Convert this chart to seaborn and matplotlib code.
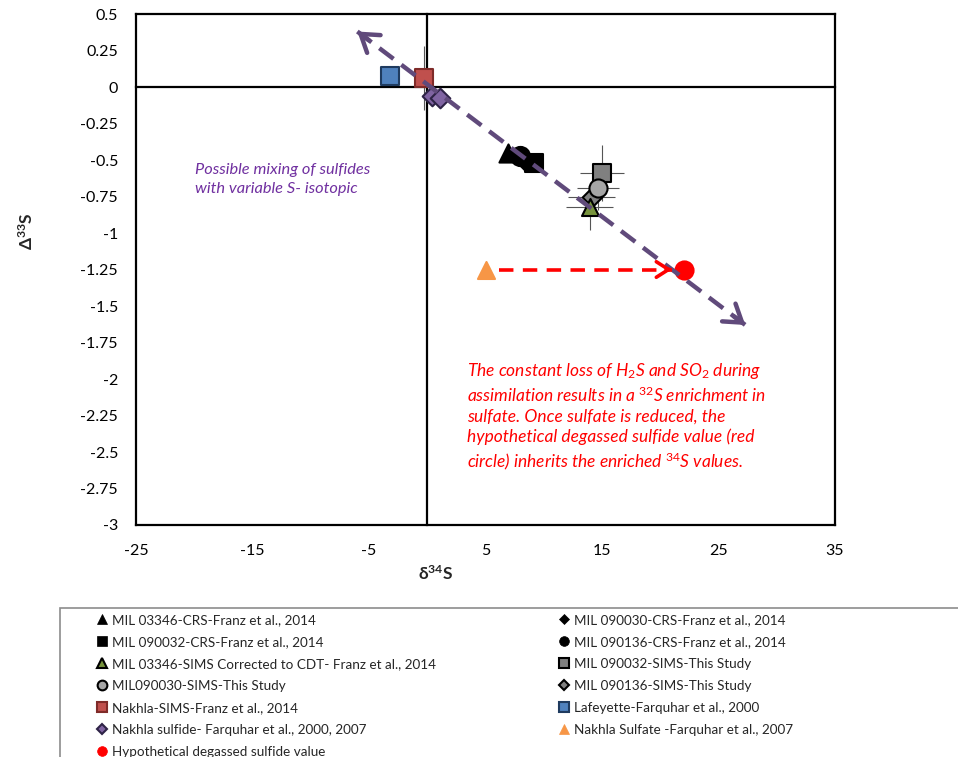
# Libraries
# ===================================================
import numpy as np
import pandas as pd
import seaborn as sns
import matplotlib.pyplot as plt
import matplotlib.lines as mlines
import matplotlib.patches as mpatches
from matplotlib.ticker import FuncFormatter

# Data
# ===================================================
series = [
    'MIL 090030-CRS-Franz et al., 2014',
    'MIL 03346-CRS-Franz et al., 2014',
    'MIL 090136-CRS-Franz et al., 2014',
    'MIL 090032-CRS-Franz et al., 2014',
    'MIL 090032-SIMS-This Study',
    'MIL 090136-SIMS-This Study',
    'MIL 03346-SIMS Corrected to CDT- Franz et al., 2014',
    'MIL090030-SIMS-This Study',
    'Lafeyette-Farquhar et al., 2000',
    'Nakhla-SIMS-Franz et al., 2014',
    'Nakhla sulfide- Farquhar et al., 2000, 2007',
    'Nakhla sulfide- Farquhar et al., 2000, 2007',
    'Nakhla Sulfate -Farquhar et al., 2007',
    'Hypothetical degassed sulfide value',
]
d34S = [8.3, 6.9, 8.0, 9.2, 15.0, 14.1, 13.95, 14.65, -3.2, -0.3, 0.4, 1.1, 5.0, 22.0]
D33S = [-0.49, -0.45, -0.47, -0.52, -0.59, -0.75, -0.82, -0.69, 0.075, 0.06, -0.06, -0.075, -1.25, -1.25]
d34S_err = [0, 0, 0, 0, 1.9, 2.0, 2.0, 1.8, 0, 0, 0, 0, 0, 0]
D33S_err = [0, 0, 0, 0, 0.19, 0.10, 0.16, 0.15, 0, 0.22, 0, 0, 0, 0]

# Arrows (mixing line and degassing shift)
mixing_x = [-6.0, 27.3]
mixing_y = [0.38, -1.63]
shift_x = [6.2, 21.0]
shift_y = [-1.25, -1.25]

x_ticks = [-25, -15, -5, 5, 15, 25, 35]
y_ticks = np.arange(-3, 0.51, 0.25)

df = pd.DataFrame({'series': series, 'x': d34S, 'y': D33S, 'xerr': d34S_err, 'yerr': D33S_err})

# Styles
# ===================================================
styles = {
    'MIL 03346-CRS-Franz et al., 2014': dict(marker='^', color='black', edge='black', s=170),
    'MIL 090030-CRS-Franz et al., 2014': dict(marker='D', color='black', edge='black', s=110),
    'MIL 090032-CRS-Franz et al., 2014': dict(marker='s', color='black', edge='black', s=170),
    'MIL 090136-CRS-Franz et al., 2014': dict(marker='o', color='black', edge='black', s=190),
    'MIL 03346-SIMS Corrected to CDT- Franz et al., 2014': dict(marker='^', color='#77933c', edge='black', s=150),
    'MIL 090032-SIMS-This Study': dict(marker='s', color='#808080', edge='black', s=150),
    'MIL090030-SIMS-This Study': dict(marker='o', color='#a6a6a6', edge='black', s=170),
    'MIL 090136-SIMS-This Study': dict(marker='D', color='#808080', edge='black', s=100),
    'Nakhla-SIMS-Franz et al., 2014': dict(marker='s', color='#c0504d', edge='#7f2b29', s=180),
    'Lafeyette-Farquhar et al., 2000': dict(marker='s', color='#4f81bd', edge='#1f3b5f', s=180),
    'Nakhla sulfide- Farquhar et al., 2000, 2007': dict(marker='D', color='#8064a2', edge='#2e2346', s=100),
    'Nakhla Sulfate -Farquhar et al., 2007': dict(marker='^', color='#f79646', edge='#f79646', s=150),
    'Hypothetical degassed sulfide value': dict(marker='o', color='#ff0000', edge='#ff0000', s=170),
}

# Visualization
# ===================================================
sns.set_style('white')
plt.rcParams.update({'font.family': ['Lato', 'DejaVu Sans'], 'font.size': 11.5,
                     'axes.unicode_minus': False, 'mathtext.fontset': 'custom',
                     'mathtext.rm': 'Lato', 'mathtext.it': 'Lato:italic', 'mathtext.bf': 'Lato:bold'})

fig = plt.figure(figsize=(9.58, 7.57), dpi=100)
rect = [136 / 958, 1 - 525 / 757, 699 / 958, 511 / 757]

# Frame axes with tick labels
axf = fig.add_axes(rect)
axf.set_xlim(-25, 35)
axf.set_ylim(-3, 0.5)
axf.set_xticks(x_ticks)
axf.set_yticks(y_ticks)
axf.yaxis.set_major_formatter(FuncFormatter(lambda v, p: f'{v:g}'))
axf.tick_params(length=0, labelsize=11.5, colors='black')
axf.tick_params(axis='x', pad=14)
axf.tick_params(axis='y', pad=13)
for sp in axf.spines.values():
    sp.set_color('black')
    sp.set_linewidth(1.6)
axf.grid(False)

# Zero-crossing axes with the data
ax = fig.add_axes(rect, sharex=axf, sharey=axf)
ax.patch.set_visible(False)
ax.grid(False)
ax.spines['top'].set_visible(False)
ax.spines['right'].set_visible(False)
ax.spines['left'].set_position(('data', 0))
ax.spines['bottom'].set_position(('data', 0))
for sp in ['left', 'bottom']:
    ax.spines[sp].set_color('black')
    ax.spines[sp].set_linewidth(1.6)
ax.tick_params(labelbottom=False, labelleft=False, colors='black', width=1.2)
ax.tick_params(axis='x', direction='inout', length=9)
ax.tick_params(axis='y', direction='in', length=6)

# Error bars
err = df[(df['xerr'] > 0) | (df['yerr'] > 0)]
ax.errorbar(err['x'], err['y'], xerr=err['xerr'], yerr=err['yerr'], fmt='none',
            ecolor='#555555', elinewidth=0.8, capsize=0, zorder=3)

# Mixing line (double-headed dashed arrow)
purple = '#604a7b'
ax.plot(mixing_x, mixing_y, color=purple, lw=3.2, dashes=(4, 2.2), zorder=5, solid_capstyle='butt')
for i, j in [(0, 1), (1, 0)]:
    tip = (mixing_x[i], mixing_y[i])
    back = (mixing_x[i] + 0.03 * (mixing_x[j] - mixing_x[i]), mixing_y[i] + 0.03 * (mixing_y[j] - mixing_y[i]))
    ax.annotate('', xy=tip, xytext=back,
                arrowprops=dict(arrowstyle='->,head_length=0.6,head_width=0.4', lw=3.2,
                                color=purple, mutation_scale=20, shrinkA=0, shrinkB=0), zorder=5)

# Markers
for name in df['series'].unique():
    st = styles[name]
    sub = df[df['series'] == name]
    sns.scatterplot(data=sub, x='x', y='y', marker=st['marker'], color=st['color'],
                    edgecolor=st['edge'], linewidth=1.5, s=st['s'], ax=ax, zorder=4, legend=False)

# Degassing shift (red dashed arrow)
ax.plot(shift_x, shift_y, color='#ff0000', lw=2.6, dashes=(4, 2.6), zorder=6)
ax.annotate('', xy=(shift_x[1], shift_y[1]), xytext=(shift_x[1] - 0.5, shift_y[1]),
            arrowprops=dict(arrowstyle='->,head_length=0.55,head_width=0.35', lw=2.6,
                            color='#ff0000', mutation_scale=16, shrinkA=0, shrinkB=0), zorder=6)

ax.set_xlabel('')
ax.set_ylabel('')

# Annotations
ax.text(-19.9, -0.52, 'Possible mixing of sulfides\nwith variable S- isotopic',
        color='#7030a0', fontsize=11.8, fontstyle='italic', va='top', ha='left', linespacing=1.45)
red_note = ('The constant loss of H$_{2}$S and SO$_{2}$ during\n'
            'assimilation results in a $^{32}$S enrichment in\n'
            'sulfate. Once sulfate is reduced, the\n'
            'hypothetical degassed sulfide value (red\n'
            'circle) inherits the enriched $^{34}$S values.')
ax.text(3.4, -1.88, red_note, color='#ff0000', fontsize=12.5, fontstyle='italic',
        va='top', ha='left', linespacing=1.28)

# Axis labels
fig.text(27 / 958, 1 - 231 / 757, 'Δ$^{\\mathbf{33}}$S', rotation=90, ha='center', va='center',
         fontsize=12.5, fontweight='bold')
fig.text(436 / 958, 1 - 574 / 757, 'δ$^{\\mathbf{34}}$S', ha='center', va='center',
         fontsize=12.5, fontweight='bold')

# Legend
def handle(name):
    st = styles[name]
    return mlines.Line2D([], [], marker=st['marker'], linestyle='none', markerfacecolor=st['color'],
                         markeredgecolor=st['edge'], markeredgewidth=1.5 if st['edge'] != st['color'] else 0.5,
                         markersize=7 if st['marker'] != 'D' else 5.5, label=name)

left_col = ['MIL 03346-CRS-Franz et al., 2014', 'MIL 090032-CRS-Franz et al., 2014',
            'MIL 03346-SIMS Corrected to CDT- Franz et al., 2014', 'MIL090030-SIMS-This Study',
            'Nakhla-SIMS-Franz et al., 2014', 'Nakhla sulfide- Farquhar et al., 2000, 2007',
            'Hypothetical degassed sulfide value']
right_col = ['MIL 090030-CRS-Franz et al., 2014', 'MIL 090136-CRS-Franz et al., 2014',
             'MIL 090032-SIMS-This Study', 'MIL 090136-SIMS-This Study',
             'Lafeyette-Farquhar et al., 2000', 'Nakhla Sulfate -Farquhar et al., 2007']

for cols, x0 in [(left_col, 95 / 958), (right_col, 557 / 958)]:
    fig.legend(handles=[handle(n) for n in cols], loc='upper left', bbox_to_anchor=(x0, 1 - 614 / 757),
               frameon=False, fontsize=9.7, handlelength=1.0, handletextpad=0.25,
               labelspacing=0.74, borderpad=0, borderaxespad=0)

fig.patches.append(mpatches.Rectangle((60 / 958, -0.02), 1.0, 0.02 + (757 - 608) / 757,
                                      transform=fig.transFigure, fill=False,
                                      edgecolor='#8c8c8c', linewidth=1.2))

plt.savefig('out.png', dpi=100)
